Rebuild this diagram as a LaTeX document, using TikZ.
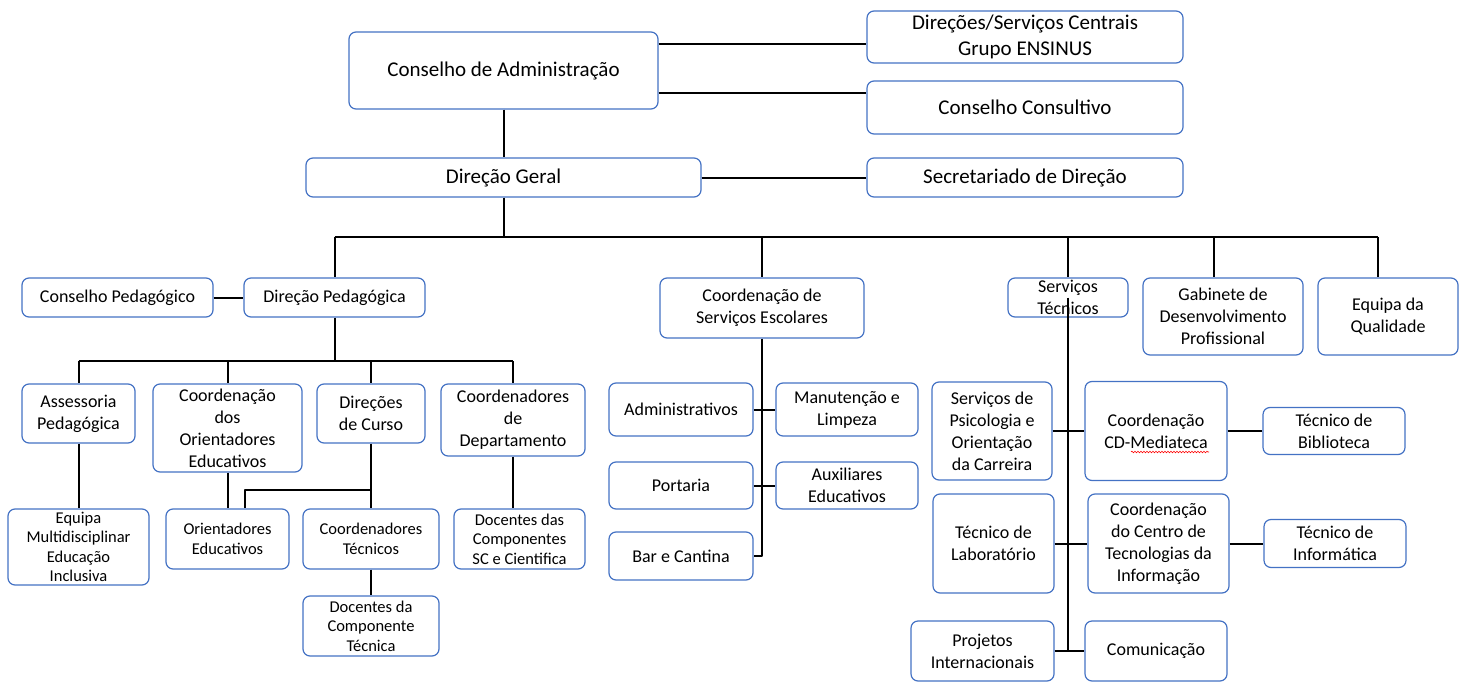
\documentclass[tikz,border=0pt]{standalone}
\usepackage{fontspec}
\setmainfont{Carlito}
\usetikzlibrary{calc,decorations.pathmorphing}

\definecolor{boxblue}{RGB}{68,114,196}

\begin{document}
\begin{tikzpicture}[x=1pt, y=-1pt, line join=round,
  orgbox/.style={draw=boxblue, line width=1.2pt, fill=white, rounded corners=7pt,
                 align=center, inner sep=1pt},
  boxsize/.style 2 args={minimum width=#1pt, minimum height=#2pt},
  bigtxt/.style={font=\fontsize{21}{25.5}\selectfont},
  midtxt/.style={font=\fontsize{18}{22}\selectfont},
  smalltxt/.style={font=\fontsize{16.5}{19.5}\selectfont},
  link/.style={line width=2pt, black}]

\useasboundingbox (0,0) rectangle (1466,682);

% --- Top: administration and general direction ---
\node[orgbox, bigtxt, boxsize={309}{77}] (ca) at (503.5,70.5) {Conselho de Administração};
\node[orgbox, bigtxt, boxsize={316}{52}] (dsc) at (1025,37) {Direções/Serviços Centrais\\Grupo ENSINUS};
\node[orgbox, bigtxt, boxsize={316}{53}] (cc) at (1025,107.5) {Conselho Consultivo};
\node[orgbox, bigtxt, boxsize={395}{39}] (dg) at (503.5,177.5) {Direção Geral};
\node[orgbox, bigtxt, boxsize={316}{39}] (sd) at (1025,177.5) {Secretariado de Direção};

% --- Second row ---
\node[orgbox, midtxt, boxsize={191}{39}] (cp) at (117.5,297.5) {Conselho Pedagógico};
\node[orgbox, midtxt, boxsize={181}{39}] (dp) at (334.5,297.5) {Direção Pedagógica};
\node[orgbox, midtxt, boxsize={204}{60}] (cse) at (762,308) {Coordenação de\\Serviços Escolares};
\node[orgbox, midtxt, boxsize={120}{39}, inner ysep=0pt] (st) at (1068,297.5) {Serviços\\Técnicos};
\node[orgbox, midtxt, boxsize={160}{77}] (gdp) at (1223,316.5) {Gabinete de\\Desenvolvimento\\Profissional};
\node[orgbox, midtxt, boxsize={140}{77}] (eq) at (1388,316.5) {Equipa da\\Qualidade};

% --- Pedagogical branch ---
\node[orgbox, midtxt, boxsize={113}{59}] (ap) at (78.5,413.5) {Assessoria\\Pedagógica};
\node[orgbox, midtxt, boxsize={149}{88}] (cdoe) at (227.5,428) {Coordenação\\dos\\Orientadores\\Educativos};
\node[orgbox, midtxt, boxsize={108}{59}] (ddc) at (371,413.5) {Direções\\de Curso};
\node[orgbox, midtxt, boxsize={144}{72}] (cdd) at (513,420) {Coordenadores\\de\\Departamento};
\node[orgbox, smalltxt, boxsize={141}{76}] (emei) at (78.5,547) {Equipa\\Multidisciplinar\\Educação\\Inclusiva};
\node[orgbox, smalltxt, boxsize={123}{60}] (oe) at (227.5,539) {Orientadores\\Educativos};
\node[orgbox, smalltxt, boxsize={136}{60}] (ct) at (371,539) {Coordenadores\\Técnicos};
\node[orgbox, smalltxt, boxsize={136}{60}] (dct) at (371,626) {Docentes da\\Componente\\Técnica};
\node[orgbox, smalltxt, boxsize={131}{60}] (dcsc) at (519.5,539) {Docentes das\\Componentes\\SC e Cientifica};

% --- School services branch ---
\node[orgbox, midtxt, boxsize={144}{53}] (admin) at (681,409.5) {Administrativos};
\node[orgbox, midtxt, boxsize={142}{53}] (manut) at (847,409.5) {Manutenção e\\Limpeza};
\node[orgbox, midtxt, boxsize={144}{47}] (port) at (681,485.5) {Portaria};
\node[orgbox, midtxt, boxsize={142}{47}] (aux) at (847,485.5) {Auxiliares\\Educativos};
\node[orgbox, midtxt, boxsize={144}{48}] (bar) at (681,556) {Bar e Cantina};

% --- Technical services branch ---
\node[orgbox, midtxt, boxsize={120}{98}] (spoc) at (992,431) {Serviços de\\Psicologia e\\Orientação\\da Carreira};
\node[orgbox, midtxt, boxsize={142}{99}] (cdm) at (1156,431) {Coordenação\\CD-Mediateca};
\node[orgbox, midtxt, boxsize={142}{47}] (tb) at (1334,431) {Técnico de\\Biblioteca};
\node[orgbox, midtxt, boxsize={121}{99}] (tl) at (993.5,543.5) {Técnico de\\Laboratório};
\node[orgbox, midtxt, boxsize={141}{99}] (ccti) at (1158.5,543.5) {Coordenação\\do Centro de\\Tecnologias da\\Informação};
\node[orgbox, midtxt, boxsize={142}{48}] (ti) at (1335,543.5) {Técnico de\\Informática};
\node[orgbox, midtxt, boxsize={143}{60}] (pi) at (982.5,651) {Projetos\\Internacionais};
\node[orgbox, midtxt, boxsize={142}{60}] (com) at (1156,651) {Comunicação};

% spell-check squiggle under the word
\draw[red, line width=0.6pt, decorate, decoration={snake, amplitude=0.8pt, segment length=3pt}]
  ($(cdm.center)+(-25,21)$) -- ($(cdm.center)+(53,21)$);

% --- Connectors: top ---
\draw[link] (ca.east |- 0,44) -- (dsc.west |- 0,44);
\draw[link] (ca.east |- 0,93) -- (cc.west |- 0,93);
\draw[link] (ca.south) -- (dg.north);
\draw[link] (dg.east) -- (sd.west);

% --- Main bus ---
\coordinate (busL) at (334.5,237);
\coordinate (busR) at (1378,237);
\coordinate (gdrop) at (1214,237);
\draw[link] (busL) -- (busR);
\draw[link] (dg.south) -- (dg.south |- busL);
\draw[link] (busL) -- (dp.north);
\draw[link] (cse.north |- busL) -- (cse.north);
\draw[link] (st.north |- busL) -- (st.north);
\draw[link] (gdrop) -- (gdrop |- gdp.north);
\draw[link] (busR) -- (busR |- eq.north);
\draw[link] (cp.east) -- (dp.west);

% --- Pedagogical connectors ---
\coordinate (pbusL) at (78.5,361);
\coordinate (pbusR) at (513,361);
\coordinate (oebr) at (245,490);
\draw[link] (pbusL) -- (pbusR);
\draw[link] (dp.south) -- (dp.south |- pbusL);
\draw[link] (pbusL) -- (ap.north);
\draw[link] (cdoe.north |- pbusL) -- (cdoe.north);
\draw[link] (ddc.north |- pbusL) -- (ddc.north);
\draw[link] (pbusR) -- (cdd.north);
\draw[link] (ap.south) -- (emei.north);
\draw[link] (cdoe.south) -- (oe.north);
\draw[link] (ddc.south) -- (ct.north);
\draw[link] (ddc.south |- oebr) -- (oebr) -- (oebr |- oe.north);
\draw[link] (ct.south) -- (dct.north);
\draw[link] (cdd.south) -- (cdd.south |- dcsc.north);

% --- School services connectors ---
\draw[link] (cse.south) -- (cse.south |- bar.east) -- (bar.east);
\draw[link] (admin.east) -- (manut.west);
\draw[link] (port.east) -- (aux.west);

% --- Technical services connectors ---
\draw[link] (st.center) -- (st.center |- pi.east);
\draw[link] (spoc.east) -- (cdm.west);
\draw[link] (cdm.east) -- (tb.west);
\draw[link] (tl.east) -- (ccti.west);
\draw[link] (ccti.east) -- (ti.west);
\draw[link] (pi.east) -- (com.west);

\end{tikzpicture}
\end{document}
